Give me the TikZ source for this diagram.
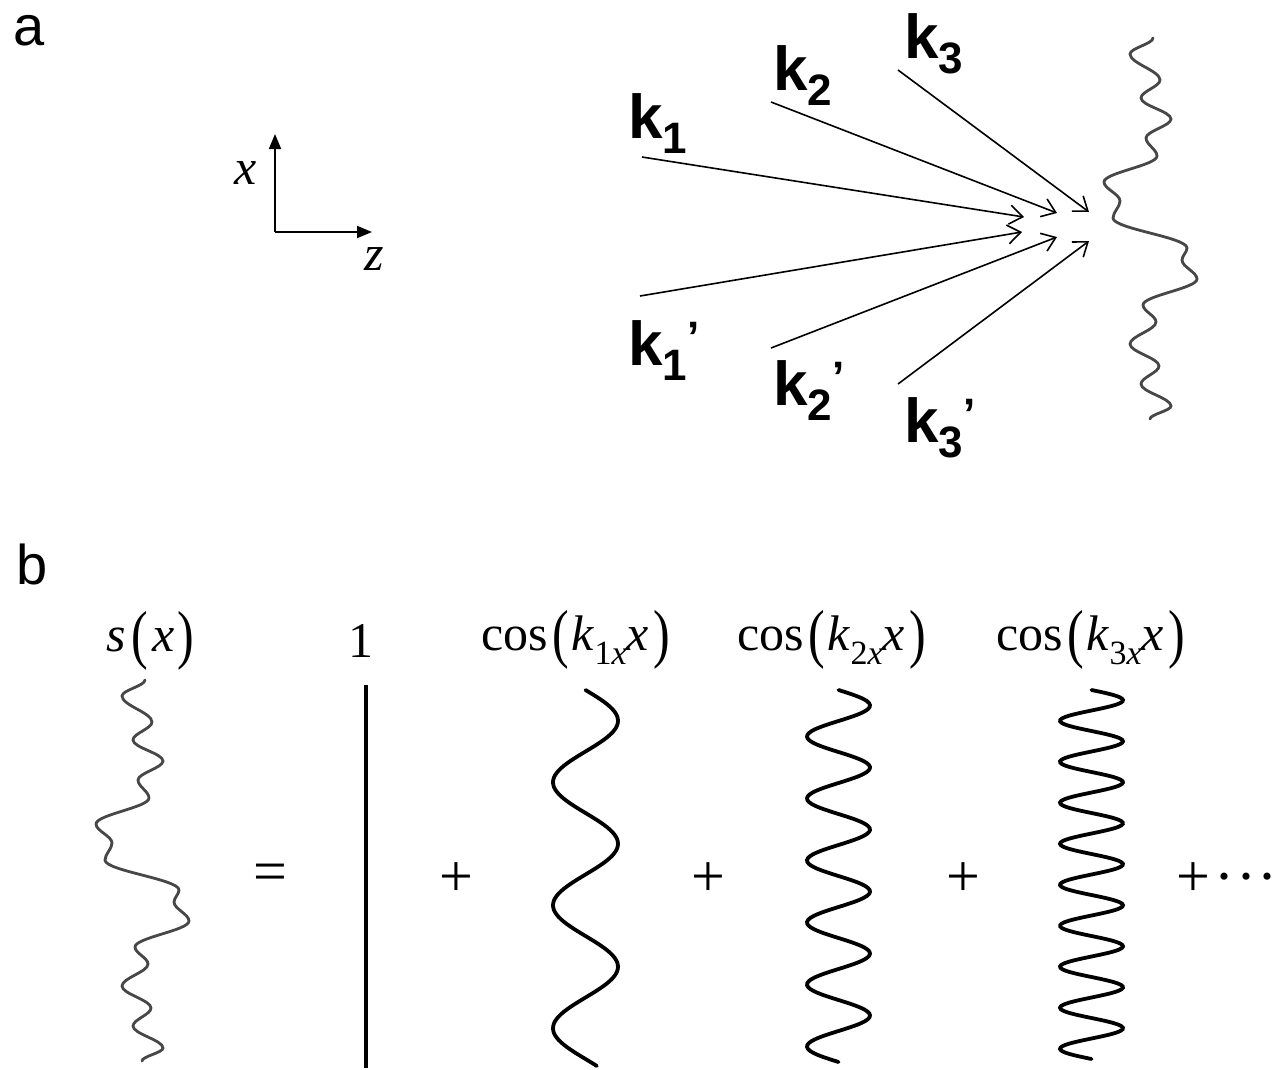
\documentclass[tikz,border=0pt]{standalone}
\usepackage{fontspec}
\setmainfont{Liberation Serif}
\newfontfamily\labelfont{Liberation Sans}
\usepackage{graphicx}
\usetikzlibrary{arrows.meta}

% wave vector labels of panel a
\newcommand{\kvec}[1]{k\raisebox{-15pt}{\fontsize{44}{44}\selectfont #1}}
\newcommand{\kprime}{\raisebox{13pt}{\fontsize{44}{44}\selectfont ’}}
% stretched brackets and lowered indices of panel b
\newcommand{\tallopen}{\raisebox{-5pt}{\scalebox{1}[1.3]{(}}}
\newcommand{\tallclose}{\raisebox{-5pt}{\scalebox{1}[1.3]{)}}}
\newcommand{\lowidx}[1]{\raisebox{-14pt}{\fontsize{34}{34}\selectfont #1}}
\newcommand{\costerm}[1]{cos\kern4pt\tallopen\kern3pt\textit{k}\lowidx{#1\textit{x}}\textit{x}\kern5pt\tallclose}
% superposed signal, relative to its upper end
\newcommand{\signalpath}{(0,0) \foreach \px/\py [remember=\px as \qx (initially 0), remember=\py as \qy (initially 0)] in {-23/16, 7/42, -12/60, 18/81, -7/100, 4/118, -49/144, -33/163, -40/180, 34/210, 29/222, 44/241, -10/267, 3/284, -23/306, 6/328, -12/346, 18/368, -3/381} { .. controls (\qx,{\qy+0.36*(\py-\qy)}) and (\px,{\py-0.36*(\py-\qy)}) .. (\px,\py) }}

\begin{document}
\begin{tikzpicture}[
  x=1pt, y=-1pt,
  panel/.style={font=\labelfont\fontsize{56}{60}\selectfont, inner sep=0pt, anchor=base west},
  klabel/.style={font=\labelfont\bfseries\fontsize{62}{66}\selectfont, inner sep=0pt, anchor=base west},
  axislabel/.style={font=\fontsize{50}{60}\selectfont\itshape, inner sep=0pt},
  eqlabel/.style={font=\fontsize{50}{60}\selectfont, inner sep=0pt, anchor=base},
  opsign/.style={font=\fontsize{60}{70}\selectfont, inner sep=0pt},
  axis/.style={-{Triangle[length=15pt,width=12pt]}, line width=1.8pt},
  ray/.style={-{Straight Barb[length=13pt,width=19pt]}, line width=1.6pt},
  signal/.style={line width=2.8pt, black!72, line cap=round},
  cosine/.style={line width=3.8pt, line cap=round},
  constline/.style={line width=3.4pt},
]
\useasboundingbox (0,0) rectangle (1285,1069);

% panel a
\node[panel] (panela) at (13,45) {a};

\coordinate (origin) at (275,232);
\coordinate (xend) at (275,134);
\coordinate (zend) at (372,232);
\draw[axis] (origin) -- (xend);
\draw[axis] (origin) -- (zend);
\node[axislabel] (xlab) at (246,173) {x};
\node[axislabel] (zlab) at (374,259) {z};

\node[klabel] (k1lab) at (628,138) {\kvec{1}};
\node[klabel] (k2lab) at (773,90) {\kvec{2}};
\node[klabel] (k3lab) at (904,58) {\kvec{3}};
\node[klabel] (k1plab) at (628,365) {\kvec{1}\kprime};
\node[klabel] (k2plab) at (773,405) {\kvec{2}\kprime};
\node[klabel] (k3plab) at (904,442) {\kvec{3}\kprime};

\coordinate (k1tail) at (642,157);
\coordinate (k1tip) at (1024,217);
\coordinate (k2tail) at (771,102);
\coordinate (k2tip) at (1057,213);
\coordinate (k3tail) at (898,70);
\coordinate (k3tip) at (1089,212);
\coordinate (k1ptail) at (640,296);
\coordinate (k1ptip) at (1022,232);
\coordinate (k2ptail) at (771,348);
\coordinate (k2ptip) at (1057,237);
\coordinate (k3ptail) at (898,384);
\coordinate (k3ptip) at (1089,241);
\draw[ray] (k1tail) -- (k1tip);
\draw[ray] (k2tail) -- (k2tip);
\draw[ray] (k3tail) -- (k3tip);
\draw[ray] (k1ptail) -- (k1ptip);
\draw[ray] (k2ptail) -- (k2ptip);
\draw[ray] (k3ptail) -- (k3ptip);

\draw[signal, shift={(1153,38)}] \signalpath;

% panel b
\node[panel] (panelb) at (16,584) {b};

\node[eqlabel] (slab) at (150,651) {\textit{s}\kern6pt\tallopen\kern4pt\textit{x}\kern3pt\tallclose};
\node[eqlabel] (onelab) at (361,657) {1};
\node[eqlabel] (cos1lab) at (576,650) {\costerm{1}};
\node[eqlabel] (cos2lab) at (832,650) {\costerm{2}};
\node[eqlabel] (cos3lab) at (1091,650) {\costerm{3}};

\draw[signal, shift={(145,680)}] \signalpath;
\coordinate (onetop) at (366,685);
\coordinate (onebot) at (366,1068);
\draw[constline] (onetop) -- (onebot);
\draw[cosine] plot[domain=690:1066, samples=160, smooth, variable=\t] ({585.5+32.5*sin((\t-690)/123*360)}, \t);
\draw[cosine] plot[domain=690:1062, samples=200, smooth, variable=\t] ({838.5+31.5*sin((\t-690)/62*360)}, \t);
\draw[cosine] plot[domain=690:1059, samples=260, smooth, variable=\t] ({1091.5+31.5*sin((\t-690)/41*360)}, \t);

\node[opsign] (eqsign) at (270,878) {=};
\node[opsign] (plus1) at (456,880) {+};
\node[opsign] (plus2) at (708,880) {+};
\node[opsign] (plus3) at (963,880) {+};
\node[opsign, anchor=west] (plusdots) at (1176,880) {+\kern4pt·\kern2pt·\kern2pt·};

\end{tikzpicture}
\end{document}
